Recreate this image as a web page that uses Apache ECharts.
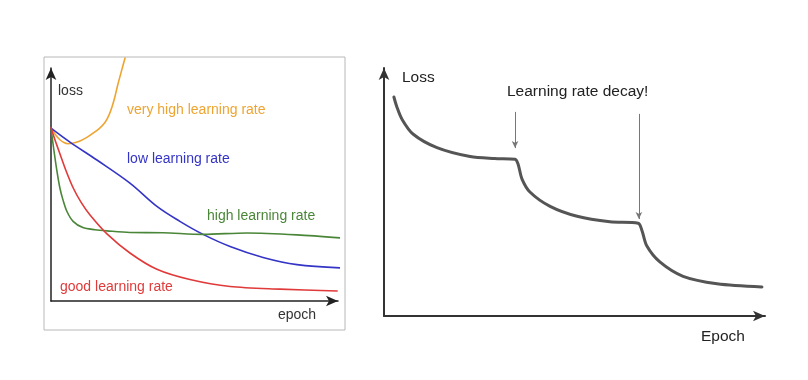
<!DOCTYPE html>
<html>
<head>
<meta charset="utf-8">
<script src="https://cdn.jsdelivr.net/npm/echarts@6/dist/echarts.min.js"></script>
<style>
html,body{margin:0;padding:0;background:#fff;}
#c{width:808px;height:380px;}
</style>
</head>
<body>
<div id="c"></div>
<script>
// ---- Left chart: loss vs epoch for different learning rates ----
const veryHighLR = [[0,74.2],[1.5,71.5],[3.1,69.2],[4.5,68.0],[5.9,67.5],[7.5,67.7],[10.1,68.7],[12.5,70.2],[14.6,72.0],[16.8,74.0],[18.8,76.6],[20.2,79.8],[21.3,83.5],[22.3,87.8],[23.2,92.5],[24.4,98.0],[25.8,104.3]];
const lowLR = [[0,74.2],[6.6,68.2],[16.0,60.5],[27.5,50.6],[36.9,40.6],[44.9,34.2],[53.0,28.6],[62.4,23.4],[73.9,18.7],[85.7,15.6],[100.7,14.2]];
const highLR = [[0,74.2],[1.0,64.8],[2.1,55.5],[3.1,48.5],[4.2,43.3],[5.6,38.3],[7.7,34.2],[11.1,31.5],[15.3,30.6],[19.5,30.1],[27.5,29.4],[39.0,29.3],[53.0,28.6],[68.3,29.2],[85.7,28.4],[101.7,27.0]];
const goodLR = [[0,74.2],[1.4,69.1],[3.1,63.2],[5.2,56.0],[7.7,48.6],[10.5,42.3],[13.6,36.9],[19.5,28.8],[27.5,20.6],[36.9,13.6],[48.4,9.2],[62.4,6.2],[79.8,5.1],[99.7,4.3]];
const leftLabels = ['very high learning rate','low learning rate','high learning rate','good learning rate'];

// ---- Right chart: step learning-rate decay ----
const decayLoss = [[2.6,88.3],[3.4,84.2],[4.7,79.4],[7.6,73.4],[13.9,67.9],[22.6,64.3],[29.0,63.5],[34.4,63.2],
                   [35.2,61.2],[36.2,55.3],[38.3,50.0],[43.6,44.2],[50.7,40.2],[59.3,38.0],[66.7,37.4],
                   [67.7,34.5],[69.0,28.2],[72.4,21.8],[78.5,16.0],[87.4,13.0],[99.2,11.7]];
const decayArrows = [[[34.4,82.3],[34.4,67.7]],[[66.9,81.5],[66.9,39.1]]];
const rightTexts = ['Loss','Learning rate decay!','Epoch'];
const leftAxisTexts = ['loss','epoch'];

const FONT = '"Liberation Sans", Arial, sans-serif';
const colors = {orange:'#eea431', blue:'#3434c6', green:'#4a8638', red:'#e03a3a'};

const chart = echarts.init(document.getElementById('c'), null, {renderer:'canvas'});

function axisBase(arrowColor, width){
  return {
    axisLine:{show:true, onZero:false, symbol:['none','arrow'], symbolSize:[8,12],
      lineStyle:{color:arrowColor, width:width}},
    axisTick:{show:false}, axisLabel:{show:false}, splitLine:{show:false}
  };
}
function curve(name, data, color, xi, width, smooth){
  return {type:'line', name:name, xAxisIndex:xi, yAxisIndex:xi, data:data, smooth:smooth,
    clip:false, showSymbol:false, lineStyle:{color:color, width:width, join:'round', cap:'round'}};
}

const right = curve('loss', decayLoss, '#555555', 1, 3, 0.3);
right.markLine = {silent:true, symbol:['none','arrow'], symbolSize:[5,7], label:{show:false},
  lineStyle:{color:'#777', width:1, type:'solid'},
  data: decayArrows.map(a => [{coord:a[0]},{coord:a[1]}])};

const option = {
  animation:false,
  backgroundColor:'#ffffff',
  grid:[
    {left:51, right:470, top:68, bottom:79},
    {left:384, right:43, top:68, bottom:64}
  ],
  xAxis:[
    Object.assign({type:'value', gridIndex:0, min:0, max:100}, axisBase('#222',1.5)),
    Object.assign({type:'value', gridIndex:1, min:0, max:100}, axisBase('#333',2))
  ],
  yAxis:[
    Object.assign({type:'value', gridIndex:0, min:0, max:100}, axisBase('#222',1.5)),
    Object.assign({type:'value', gridIndex:1, min:0, max:100}, axisBase('#333',2))
  ],
  series:[
    curve(leftLabels[0], veryHighLR, colors.orange, 0, 1.6, 0.3),
    curve(leftLabels[1], lowLR, colors.blue, 0, 1.6, 0.35),
    curve(leftLabels[2], highLR, colors.green, 0, 1.6, 0.3),
    curve(leftLabels[3], goodLR, colors.red, 0, 1.6, 0.3),
    right
  ],
  graphic:[
    {type:'rect', left:41.5, top:54.5, shape:{width:301, height:273}, style:{fill:'none', stroke:'#b8b8b8', lineWidth:1}, z:-1},
    {type:'text', left:58, top:84, style:{text:leftAxisTexts[0], font:'14px '+FONT, fill:'#333'}},
    {type:'text', left:278, top:308, style:{text:leftAxisTexts[1], font:'14px '+FONT, fill:'#333'}},
    {type:'text', left:127, top:103, style:{text:leftLabels[0], font:'14px '+FONT, fill:colors.orange}},
    {type:'text', left:127, top:152, style:{text:leftLabels[1], font:'14px '+FONT, fill:colors.blue}},
    {type:'text', left:207, top:209, style:{text:leftLabels[2], font:'14px '+FONT, fill:colors.green}},
    {type:'text', left:60, top:280, style:{text:leftLabels[3], font:'14px '+FONT, fill:colors.red}},
    {type:'text', left:402, top:70, style:{text:rightTexts[0], font:'15.5px '+FONT, fill:'#222'}},
    {type:'text', left:507, top:84, style:{text:rightTexts[1], font:'15.5px '+FONT, fill:'#222'}},
    {type:'text', left:701, top:329, style:{text:rightTexts[2], font:'15.5px '+FONT, fill:'#222'}}
  ]
};
chart.setOption(option);
</script>
</body>
</html>
